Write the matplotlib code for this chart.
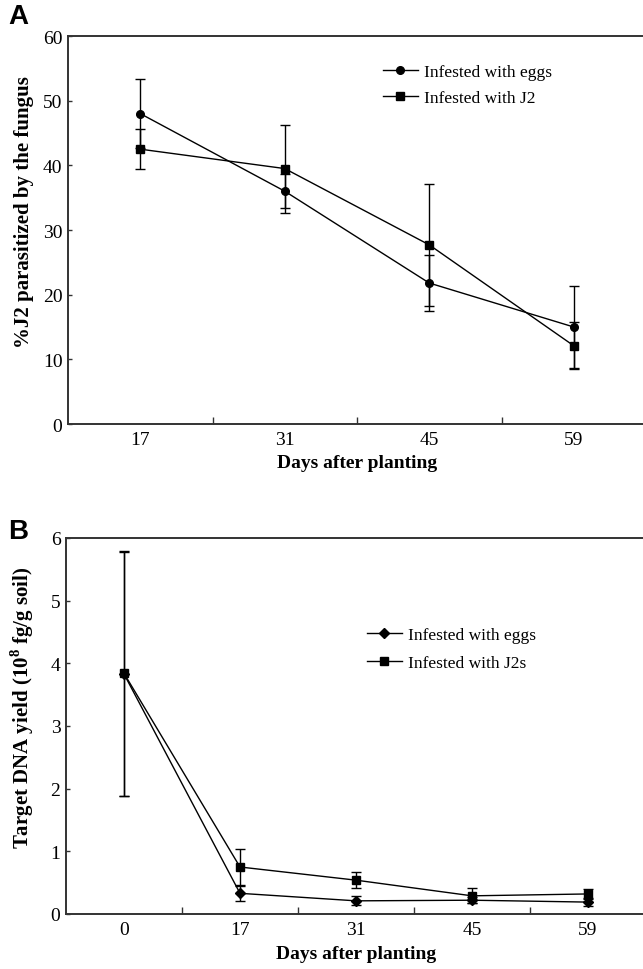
import matplotlib
matplotlib.use("Agg")
import matplotlib.pyplot as plt
import numpy as np

# ---- Panel A data ----
days_a = ["17", "31", "45", "59"]
eggs_a = [48.0, 36.0, 21.8, 15.0]
eggs_a_err = [5.3, 2.6, 4.3, 6.3]
j2_a = [42.5, 39.5, 27.7, 12.1]
j2_a_err = [3.1, 6.8, 9.4, 3.6]

# ---- Panel B data ----
days_b = ["0", "17", "31", "45", "59"]
eggs_b = [3.83, 0.33, 0.21, 0.22, 0.19]
eggs_b_err = [1.95, 0.12, 0.07, 0.05, 0.06]
j2_b = [3.84, 0.75, 0.54, 0.29, 0.32]
j2_b_err = [1.95, 0.28, 0.13, 0.12, 0.08]

plt.rcParams['font.family'] = ['Liberation Serif', 'DejaVu Serif']
plt.rcParams['mathtext.fontset'] = 'custom'
plt.rcParams['mathtext.rm'] = 'Liberation Serif'
plt.rcParams['mathtext.bf'] = 'Liberation Serif:bold'

W, H = 643, 970
fig = plt.figure(figsize=(W / 100, H / 100), dpi=100)

def px_axes(left, top, right, bottom):
    return fig.add_axes([left / W, 1 - bottom / H, (right - left) / W, (bottom - top) / H])

SPINE_C = '#333333'

def style(ax, n):
    ax.spines['right'].set_visible(False)
    for s in ['left', 'top', 'bottom']:
        ax.spines[s].set_linewidth(1.4)
        ax.spines[s].set_color(SPINE_C)
    ax.set_xlim(-0.5, n - 0.5)
    ax.set_xticks(np.arange(n))
    ax.tick_params(axis='x', which='major', length=0, labelsize=14, pad=5)
    ax.set_xticks(np.arange(n - 1) + 0.5, minor=True)
    ax.tick_params(axis='x', which='minor', direction='in', length=5, width=1, color=SPINE_C)
    ax.tick_params(axis='y', direction='in', length=3, width=1, labelsize=14, pad=4, color=SPINE_C)

ekw = dict(color='black', lw=1.0, elinewidth=1.0, capsize=3.8, capthick=1.0)

# ---- Panel A ----
axA = px_axes(68, 37, 646, 425)
xa = np.arange(len(days_a))
axA.errorbar(xa, eggs_a, yerr=eggs_a_err, marker='o', ms=5.5, label='Infested with eggs', **ekw)
axA.errorbar(xa, j2_a, yerr=j2_a_err, marker='s', ms=5.5, label='Infested with J2', **ekw)
style(axA, len(days_a))
axA.set_xticklabels(days_a)
axA.set_ylim(0, 60)
axA.set_yticks(np.arange(0, 61, 10))
axA.set_xlabel('Days after planting', fontsize=14, fontweight='bold', labelpad=4)
axA.set_ylabel('%J2 parasitized by the fungus', fontsize=15, fontweight='bold')
axA.yaxis.set_label_coords(-0.058, 0.548)
hA, lA = axA.get_legend_handles_labels()
hA = [h[0] for h in hA]
axA.legend(hA, lA, loc='upper left', bbox_to_anchor=(383 / W, 1 - 65 / H), bbox_transform=fig.transFigure,
           frameon=False, fontsize=12.5, borderpad=0, borderaxespad=0, handlelength=2.0,
           handletextpad=0.35, labelspacing=0.55)

# ---- Panel B ----
axB = px_axes(66, 539, 646, 915)
xb = np.arange(len(days_b))
axB.errorbar(xb, eggs_b, yerr=eggs_b_err, marker='D', ms=5, label='Infested with eggs', **ekw)
axB.errorbar(xb, j2_b, yerr=j2_b_err, marker='s', ms=5.5, label='Infested with J2s', **ekw)
style(axB, len(days_b))
axB.set_xticklabels(days_b)
axB.set_ylim(0, 6)
axB.set_yticks(np.arange(0, 7, 1))
axB.set_xlabel('Days after planting', fontsize=14, fontweight='bold', labelpad=5)
axB.set_ylabel(r'Target DNA yield (10$^{\mathbf{8}}$ fg/g soil)', fontsize=15, fontweight='bold')
axB.yaxis.set_label_coords(-0.052, 0.55)
hB, lB = axB.get_legend_handles_labels()
hB = [h[0] for h in hB]
axB.legend(hB, lB, loc='upper left', bbox_to_anchor=(367 / W, 1 - 628 / H), bbox_transform=fig.transFigure,
           frameon=False, fontsize=12.5, borderpad=0, borderaxespad=0, handlelength=2.0,
           handletextpad=0.35, labelspacing=0.7)

# panel letters
fig.text(8 / W, 1 - 4 / H, 'A', fontsize=20, fontweight='bold', family=['Liberation Sans', 'DejaVu Sans'],
         va='top', ha='left')
fig.text(8 / W, 1 - 519 / H, 'B', fontsize=20, fontweight='bold', family=['Liberation Sans', 'DejaVu Sans'],
         va='top', ha='left')

fig.savefig('out.png', dpi=100)
